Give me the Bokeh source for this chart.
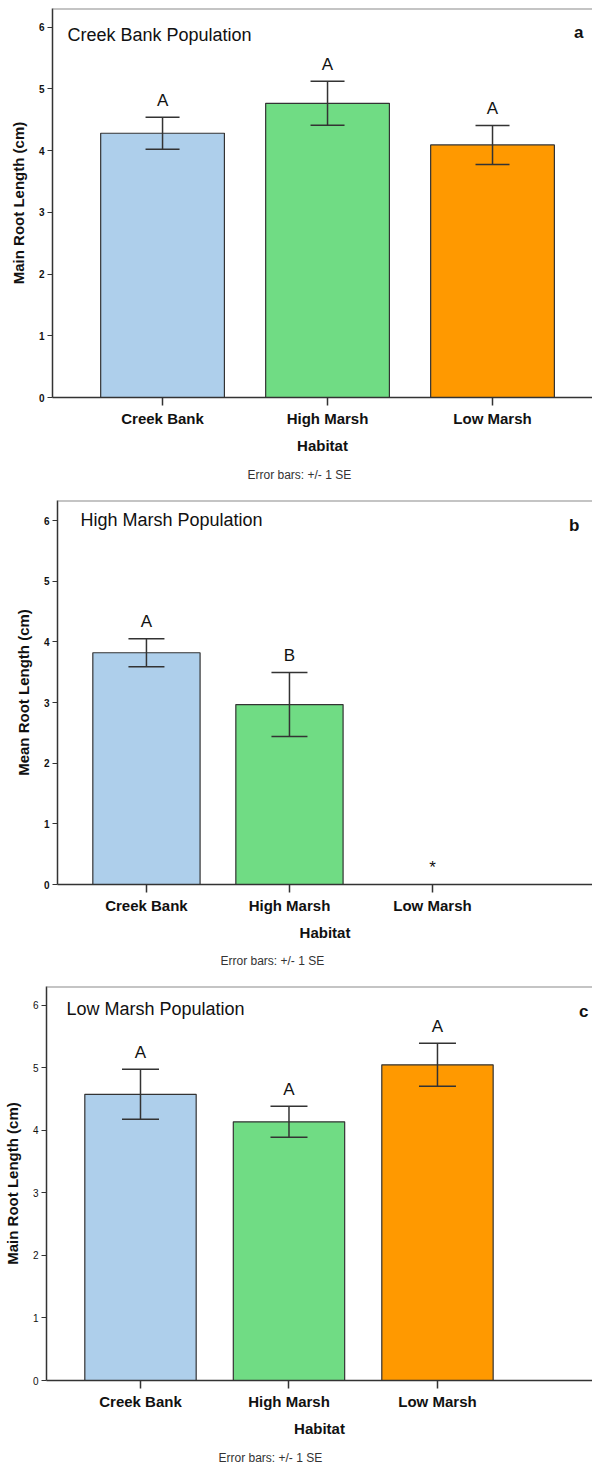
from bokeh.plotting import figure
from bokeh.layouts import column
from bokeh.models import (ColumnDataSource, FixedTicker, Whisker, TeeHead, Label,
                          Span, Title, Range1d)
from bokeh.core.properties import value
from bokeh.embed import file_html
from bokeh.resources import INLINE

# ---------------- data ----------------
habitats = ["Creek Bank", "High Marsh", "Low Marsh"]
positions = [1, 2, 3]
bar_colors = ["#aecfeb", "#70dc84", "#ff9900"]

# panel a: Creek Bank Population
a_mean = [4.28, 4.765, 4.09]
a_se = [0.26, 0.355, 0.317]
a_letters = ["A", "A", "A"]

# panel b: High Marsh Population
b_mean = [3.82, 2.966, 0.0]
b_se = [0.231, 0.527, 0.0]
b_letters = ["A", "B", "*"]

# panel c: Low Marsh Population
c_mean = [4.576, 4.136, 5.048]
c_se = [0.40, 0.248, 0.344]
c_letters = ["A", "A", "A"]

y_ticks = [0, 1, 2, 3, 4, 5, 6]

FONT = "Liberation Sans"
DARK = "#333333"
PAGE_W = 592
BORDER_L = 46   # common left border (column aligns frames); shift via margin


def make_panel(mean, se, letters, title_text, panel_letter, ylabel, cfg):
    upper = [m + s for m, s in zip(mean, se)]
    lower = [m - s for m, s in zip(mean, se)]
    src = ColumnDataSource(dict(x=positions, top=mean, upper=upper, lower=lower,
                                color=bar_colors, letter=letters))
    wsrc = ColumnDataSource(dict(
        x=[x for x, s in zip(positions, se) if s > 0],
        upper=[u for u, s in zip(upper, se) if s > 0],
        lower=[l for l, s in zip(lower, se) if s > 0]))

    shift = cfg["ml"] - BORDER_L
    p = figure(frame_width=PAGE_W - cfg["ml"], frame_height=cfg["fh"],
               x_range=Range1d(*cfg["xr"]), y_range=Range1d(0, cfg["yend"]),
               output_backend="svg", toolbar_location=None,
               min_border_left=BORDER_L, min_border_right=0,
               min_border_top=cfg["mt"], min_border_bottom=cfg["mb"],
               margin=(0, 0, 0, shift),
               background_fill_color="white", border_fill_color="white")
    p.outline_line_color = None
    p.xgrid.grid_line_color = None
    p.ygrid.grid_line_color = None

    p.vbar(x="x", top="top", width=0.75, source=src, fill_color="color",
           line_color=DARK, line_width=1.2)

    heads = dict(size=cfg["cap"], line_color=DARK, line_width=1.5)
    p.add_layout(Whisker(source=wsrc, base="x", upper="upper", lower="lower",
                         line_color=DARK, line_width=1.5, level="annotation",
                         upper_head=TeeHead(**heads), lower_head=TeeHead(**heads)))

    p.text(x="x", y="upper", text="letter", source=src, text_align="center",
           text_baseline="middle", y_offset=-17, text_font=value(FONT),
           text_font_size="17px", text_color="#111111")

    # top border of the frame
    p.add_layout(Span(location=cfg["yend"], dimension="width",
                      line_color="#8a8a8a", line_width=2))

    p.add_layout(Label(x=cfg["xr"][0], y=cfg["yend"], x_offset=cfg["tx"],
                       y_offset=-cfg["ty"], text=title_text, text_font=FONT,
                       text_font_size="18px", text_baseline="middle",
                       text_color="#111111"))
    p.add_layout(Label(x=cfg["xr"][1], y=cfg["yend"], x_offset=-cfg["lx"],
                       y_offset=-cfg["ly"], text=panel_letter, text_font=FONT,
                       text_font_size="17px", text_font_style="bold",
                       text_baseline="middle", text_align="right",
                       text_color="#111111"))

    # x axis
    xa = p.xaxis[0]
    xa.ticker = FixedTicker(ticks=positions)
    xa.major_label_overrides = {pos: name for pos, name in zip(positions, habitats)}
    xa.major_tick_in = 0
    xa.major_tick_out = 8
    xa.minor_tick_line_color = None
    xa.axis_line_color = DARK
    xa.axis_line_width = 1.5
    xa.major_tick_line_color = DARK
    xa.major_tick_line_width = 1.5
    xa.major_label_text_font = FONT
    xa.major_label_text_font_size = "15px"
    xa.major_label_text_font_style = "bold"
    xa.major_label_text_color = "#111111"
    xa.major_label_standoff = 4
    xa.axis_label = "Habitat"
    xa.axis_label_text_font = FONT
    xa.axis_label_text_font_size = "15px"
    xa.axis_label_text_font_style = "bold"
    xa.axis_label_text_color = "#111111"
    xa.axis_label_standoff = 7

    # y axis
    ya = p.yaxis[0]
    ya.ticker = FixedTicker(ticks=y_ticks)
    ya.major_tick_in = 0
    ya.major_tick_out = 5
    ya.minor_tick_line_color = None
    ya.axis_line_color = DARK
    ya.axis_line_width = 1.5
    ya.major_tick_line_color = DARK
    ya.major_label_text_font = FONT
    ya.major_label_text_font_size = cfg["ytfs"]
    ya.major_label_text_font_style = cfg["ytstyle"]
    ya.major_label_text_color = "#111111"
    ya.major_label_standoff = 3
    ya.axis_label = ylabel
    ya.axis_label_text_font = FONT
    ya.axis_label_text_font_size = "15px"
    ya.axis_label_text_font_style = "bold"
    ya.axis_label_text_color = "#111111"
    ya.axis_label_standoff = cfg["ylstand"]

    p.add_layout(Title(text="Error bars: +/- 1 SE", text_font=FONT,
                       text_font_size="12px", text_font_style="normal",
                       text_color="#333333", align="left", offset=cfg["ebx"],
                       standoff=cfg["ebs"]), "below")
    return p


cfg_a = dict(ml=52, mt=8, mb=93, fh=389, yend=6.30, xr=(0.333, 3.606), cap=34,
             tx=15, ty=26, lx=9, ly=24, ytfs="10px", ytstyle="bold", ylstand=9,
             ebx=195, ebs=18)
cfg_b = dict(ml=57, mt=10, mb=96, fh=384, yend=6.33, xr=(0.378, 4.119), cap=36,
             tx=23, ty=19, lx=13, ly=25, ytfs="10px", ytstyle="bold", ylstand=9,
             ebx=163, ebs=17)
cfg_c = dict(ml=46, mt=6, mb=88, fh=394, yend=6.30, xr=(0.367, 4.044), cap=37,
             tx=20, ty=22, lx=4, ly=25, ytfs="10px", ytstyle="normal", ylstand=9,
             ebx=172, ebs=19)

pa = make_panel(a_mean, a_se, a_letters, "Creek Bank Population", "a",
                "Main Root Length (cm)", cfg_a)
pb = make_panel(b_mean, b_se, b_letters, "High Marsh Population", "b",
                "Mean Root Length (cm)", cfg_b)
pc = make_panel(c_mean, c_se, c_letters, "Low Marsh Population", "c",
                "Main Root Length (cm)", cfg_c)

layout = column(pa, pb, pc, spacing=0)
open("out.html", "w").write(file_html(layout, INLINE))
